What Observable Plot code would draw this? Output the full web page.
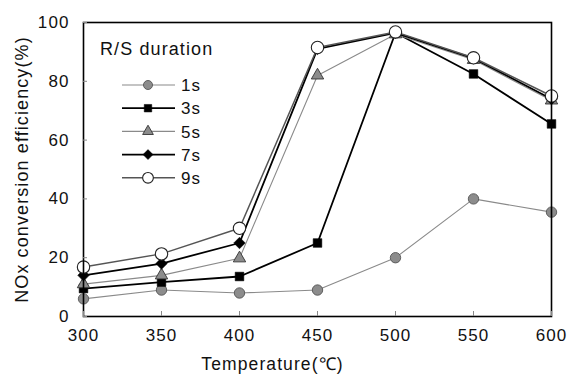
<!DOCTYPE html>
<html><head><meta charset="utf-8">
<script src="https://cdn.jsdelivr.net/npm/d3@7"></script>
<script src="https://cdn.jsdelivr.net/npm/@observablehq/plot@0.6"></script>
<style>
body{margin:0;background:#fff;}
#wrap{position:relative;width:567px;height:378px;font-family:"Liberation Sans",Arial,sans-serif;}
#legend{position:absolute;left:0;top:0;pointer-events:none;}
#wrap text{letter-spacing:1.1px;}
</style></head><body><div id="wrap"></div>
<script>
// ---- data ----
const temperatures = [300, 350, 400, 450, 500, 550, 600];
const seriesNames = ["1s", "3s", "5s", "7s", "9s"];
const eff1s = [6, 9, 8, 9, 20, 40, 35.5];
const eff3s = [9.5, 11.7, 13.6, 25, 96.5, 82.5, 65.5];
const eff5s = [11, 14, 19.8, 82, 96, 87.3, 73.5];
const eff7s = [14, 18, 25, 91, 96.5, 87.8, 74];
const eff9s = [16.8, 21.3, 30, 91.5, 96.8, 88, 75];
const yTicks = [0, 20, 40, 60, 80, 100];
const legendTitle = "R/S duration";
const xLabel = "Temperature(℃)";
const yLabel = "NOx conversion efficiency(%)";

const seriesValues = {"1s": eff1s, "3s": eff3s, "5s": eff5s, "7s": eff7s, "9s": eff9s};
const rows = seriesNames.flatMap(s => temperatures.map((t, i) => ({series: s, temp: t, eff: seriesValues[s][i]})));

// ---- styles ----
const FONT = '"Liberation Sans", Arial, sans-serif';
const st = {
  "1s": {symbol: "circle", d3sym: d3.symbolCircle, fill: "#8c8c8c", stroke: "#555", line: "#8a8a8a", lw: 1.1, r: 5.2, sw: 0.9},
  "3s": {symbol: "square", d3sym: d3.symbolSquare, fill: "#000", stroke: "#000", line: "#000", lw: 1.8, r: 4.9, sw: 0.5},
  "5s": {symbol: "triangle", d3sym: d3.symbolTriangle, fill: "#8c8c8c", stroke: "#333", line: "#8a8a8a", lw: 1.1, r: 4.6, sw: 0.9},
  "7s": {symbol: "diamond2", d3sym: d3.symbolDiamond2, fill: "#000", stroke: "#000", line: "#000", lw: 1.8, r: 5.2, sw: 0.5},
  "9s": {symbol: "circle", d3sym: d3.symbolCircle, fill: "#fff", stroke: "#222", line: "#555", lw: 1.5, r: 6.2, sw: 1.1}
};

const marks = [];
for (const s of seriesNames) {
  marks.push(Plot.line(rows.filter(d => d.series === s), {x: "temp", y: "eff", stroke: st[s].line, strokeWidth: st[s].lw}));
}
for (const s of seriesNames) {
  marks.push(Plot.dot(rows.filter(d => d.series === s), {x: "temp", y: "eff", symbol: () => st[s].symbol, r: st[s].r, fill: st[s].fill, stroke: st[s].stroke, strokeWidth: st[s].sw}));
}
marks.push(Plot.frame({stroke: "#000", strokeWidth: 1.6}));
marks.push(Plot.axisX({ticks: temperatures, tickSize: -5, tickPadding: 17, label: null, tickFormat: d => String(d), stroke: "#888", fontSize: 17}));
marks.push(Plot.axisY({ticks: yTicks, tickSize: -4, tickPadding: 18, label: null, stroke: "#888", fontSize: 17}));
marks.push(Plot.text([xLabel], {frameAnchor: "bottom", dx: -45, dy: 48, fontSize: 17.5, fill: "#111", lineAnchor: "middle", textAnchor: "middle", text: d => d}));
marks.push(Plot.text([yLabel], {frameAnchor: "left", dx: -61, dy: 0, rotate: -90, fontSize: 18, fill: "#111", textAnchor: "middle", lineAnchor: "middle", text: d => d}));

const chart = Plot.plot({
  width: 567, height: 378,
  marginLeft: 83, marginRight: 16, marginTop: 22, marginBottom: 62,
  x: {domain: [300, 600]},
  y: {domain: [0, 100]},
  symbol: {type: "identity"},
  style: {fontFamily: FONT, fontSize: "17px", color: "#111", background: "#fff"},
  marks
});
document.getElementById("wrap").appendChild(chart);

// ---- legend overlay ----
const lg = d3.select("#wrap").append("svg").attr("id", "legend").attr("width", 567).attr("height", 378)
  .style("font-family", FONT);
lg.append("text").attr("x", 100).attr("y", 55).attr("font-size", 18).attr("fill", "#111").text(legendTitle);
seriesNames.forEach((s, i) => {
  const y = 85 + i * 23.2;
  const g = lg.append("g").attr("transform", `translate(0,${y})`);
  g.append("line").attr("x1", 122).attr("x2", 175).attr("y1", 0).attr("y2", 0)
    .attr("stroke", st[s].line).attr("stroke-width", st[s].lw);
  g.append("path").attr("transform", "translate(148,0)")
    .attr("d", d3.symbol(st[s].d3sym, Math.PI * st[s].r * st[s].r * 0.75)())
    .attr("fill", st[s].fill).attr("stroke", st[s].stroke).attr("stroke-width", st[s].sw);
  g.append("text").attr("x", 181).attr("y", 0).attr("dy", "0.36em").attr("font-size", 17).attr("fill", "#111").text(s);
});
</script></body></html>
